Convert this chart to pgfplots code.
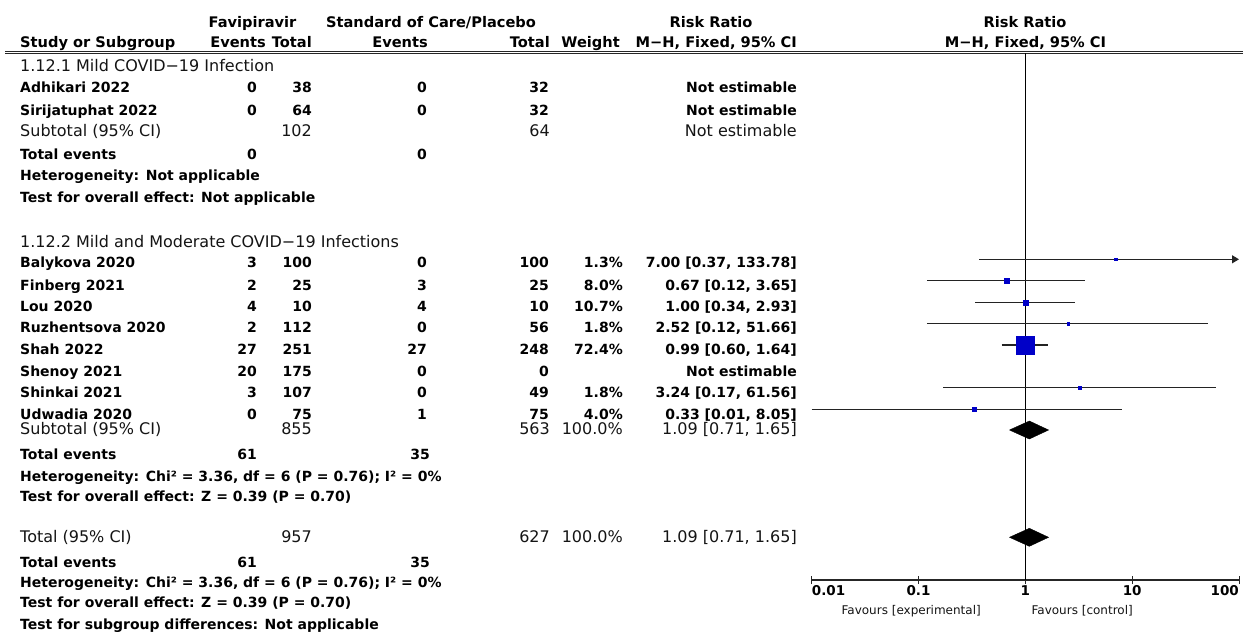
\documentclass[border=0pt]{standalone}
\usepackage{pgfplots}
\pgfplotsset{compat=1.18}
\usepackage{fontspec}
\setmainfont{DejaVu Sans}
\usetikzlibrary{arrows.meta}
\definecolor{sqblue}{RGB}{0,0,200}
\definecolor{cigray}{RGB}{35,35,35}
\tikzset{
 B/.style={font=\fontsize{14}{16}\selectfont\bfseries, inner sep=0pt},
 N/.style={font=\fontsize{16}{18}\selectfont, inner sep=0pt, text=black!92},
 H/.style={font=\fontsize{14.6}{17}\selectfont\bfseries, inner sep=0pt},
 F/.style={font=\fontsize{12}{14}\selectfont, inner sep=0pt, text=black!92},
 T/.style={font=\fontsize{13.5}{15}\selectfont\bfseries, inner sep=0pt},
}
\newcommand\drow[8]{%
 \node[B,anchor=base west] at (20,#1) {#2};
 \node[B,anchor=base east] at (257,#1) {#3};
 \node[B,anchor=base east] at (312,#1) {#4};
 \node[B,anchor=base east] at (427,#1) {#5};
 \node[B,anchor=base east] at (549,#1) {#6};
 \node[B,anchor=base east] at (623,#1) {#7};
 \node[B,anchor=base east] at (797,#1) {#8};}
\newcommand\srow[6]{%
 \node[N,anchor=base west] at (20,#1) {#2};
 \node[N,anchor=base east] at (312,#1) {#3};
 \node[N,anchor=base east] at (550,#1) {#4};
 \node[N,anchor=base east] at (623,#1) {#5};
 \node[N,anchor=base east] at (797,#1) {#6};}
\begin{document}
\begin{tikzpicture}
\useasboundingbox (0pt,0pt) rectangle (1243pt,-632pt);
\begin{scope}[x=1pt,y=-1pt]
% header
\node[H,anchor=base] at (252.5,27) {Favipiravir};
\node[H,anchor=base] at (431,27) {Standard of Care/Placebo};
\node[H,anchor=base] at (711,27) {Risk Ratio};
\node[H,anchor=base] at (1025,27) {Risk Ratio};
\node[H,anchor=base west] at (20,47) {Study or Subgroup};
\node[H,anchor=base east] at (266,47) {Events};
\node[H,anchor=base east] at (312,47) {Total};
\node[H,anchor=base east] at (428,47) {Events};
\node[H,anchor=base east] at (550,47) {Total};
\node[H,anchor=base east] at (620,47) {Weight};
\node[H,anchor=base east] at (797,47) {M−H, Fixed, 95\% CI};
\node[H,anchor=base] at (1025.5,47) {M−H, Fixed, 95\% CI};
\draw[line width=0.9pt, black!85] (5,51) -- (1243,51);
\draw[line width=0.9pt, black!85] (5,53.8) -- (1243,53.8);
% subgroup 1
\node[N,anchor=base west] at (20,71.5) {1.12.1 Mild COVID−19 Infection};
\drow{92.5}{Adhikari 2022}{0}{38}{0}{32}{}{Not estimable}
\drow{115}{Sirijatuphat 2022}{0}{64}{0}{32}{}{Not estimable}
\srow{136}{Subtotal (95\% CI)}{102}{64}{}{Not estimable}
\node[B,anchor=base west] at (20,159) {Total events};
\node[B,anchor=base east] at (257,159) {0};
\node[B,anchor=base east] at (427,159) {0};
\node[B,anchor=base west] at (20,180.5) {Heterogeneity: Not applicable};
\node[B,anchor=base west] at (20,202) {Test for overall effect: Not applicable};
% subgroup 2
\node[N,anchor=base west] at (20,247) {1.12.2 Mild and Moderate COVID−19 Infections};
\drow{267.5}{Balykova 2020}{3}{100}{0}{100}{1.3\%}{7.00 [0.37, 133.78]}
\drow{290}{Finberg 2021}{2}{25}{3}{25}{8.0\%}{0.67 [0.12, 3.65]}
\drow{311}{Lou 2020}{4}{10}{4}{10}{10.7\%}{1.00 [0.34, 2.93]}
\drow{332.5}{Ruzhentsova 2020}{2}{112}{0}{56}{1.8\%}{2.52 [0.12, 51.66]}
\drow{354}{Shah 2022}{27}{251}{27}{248}{72.4\%}{0.99 [0.60, 1.64]}
\drow{376}{Shenoy 2021}{20}{175}{0}{0}{}{Not estimable}
\drow{397.5}{Shinkai 2021}{3}{107}{0}{49}{1.8\%}{3.24 [0.17, 61.56]}
\drow{419}{Udwadia 2020}{0}{75}{1}{75}{4.0\%}{0.33 [0.01, 8.05]}
\srow{434}{Subtotal (95\% CI)}{855}{563}{100.0\%}{1.09 [0.71, 1.65]}
\node[B,anchor=base west] at (20,459) {Total events};
\node[B,anchor=base east] at (257,459) {61};
\node[B,anchor=base east] at (430,459) {35};
\node[B,anchor=base west] at (20,481) {Heterogeneity: Chi² = 3.36, df = 6 (P = 0.76); I² = 0\%};
\node[B,anchor=base west] at (20,501) {Test for overall effect: Z = 0.39 (P = 0.70)};
% total
\srow{542.5}{Total (95\% CI)}{957}{627}{100.0\%}{1.09 [0.71, 1.65]}
\node[B,anchor=base west] at (20,567.5) {Total events};
\node[B,anchor=base east] at (257,567.5) {61};
\node[B,anchor=base east] at (430,567.5) {35};
\node[B,anchor=base west] at (20,587.5) {Heterogeneity: Chi² = 3.36, df = 6 (P = 0.76); I² = 0\%};
\node[B,anchor=base west] at (20,607.5) {Test for overall effect: Z = 0.39 (P = 0.70)};
\node[B,anchor=base west] at (20,629) {Test for subgroup differences: Not applicable};
\end{scope}
% forest plot
\begin{axis}[
 at={(811.7pt,-580pt)}, anchor=south west,
 scale only axis, width=427.3pt, height=580pt,
 xmode=log, xmin=0.01, xmax=100, ymin=-580, ymax=0,
 axis y line=none, axis x line=bottom,
 x axis line style={-, line width=1.1pt, black!85},
 xtick={0.01,0.1,1,10,100}, xticklabels={},
 xminorticks=false,
 tick align=center, major tick length=8pt,
 tick style={black!85, line width=1pt},
 clip=false,
]
\addplot[black, line width=1.2pt] coordinates {(1,-53) (1,-580)};
% confidence intervals
\addplot[cigray, line width=1.3pt, -{Triangle[length=7pt,width=8pt]}] coordinates {(0.37,-259.3) (100,-259.3)};
\addplot[cigray, line width=1.3pt] coordinates {(0.12,-280.7) (3.65,-280.7)};
\addplot[cigray, line width=1.3pt] coordinates {(0.34,-302.3) (2.93,-302.3)};
\addplot[cigray, line width=1.3pt] coordinates {(0.12,-323.7) (51.66,-323.7)};
\addplot[cigray, line width=1.3pt] coordinates {(0.60,-345) (1.64,-345)};
\addplot[cigray, line width=1.3pt] coordinates {(0.17,-387.7) (61.56,-387.7)};
\addplot[cigray, line width=1.3pt] coordinates {(0.01,-409.3) (8.05,-409.3)};
% point estimates
\addplot[only marks, mark=square*, mark size=1.3pt, sqblue] coordinates {(7.00,-259.3)};
\addplot[only marks, mark=square*, mark size=2.2pt, sqblue] coordinates {(0.67,-280.7)};
\addplot[only marks, mark=square*, mark size=2.6pt, sqblue] coordinates {(1.00,-302.3)};
\addplot[only marks, mark=square*, mark size=1.3pt, sqblue] coordinates {(2.52,-323.7)};
\addplot[only marks, mark=square*, mark size=9pt, sqblue] coordinates {(0.99,-345.5)};
\addplot[only marks, mark=square*, mark size=1.5pt, sqblue] coordinates {(3.24,-387.7)};
\addplot[only marks, mark=square*, mark size=2pt, sqblue] coordinates {(0.33,-409.3)};
% diamonds
\addplot[fill=black, draw=black] coordinates {(0.71,-430) (1.09,-421) (1.65,-430) (1.09,-439) (0.71,-430)};
\addplot[fill=black, draw=black] coordinates {(0.71,-537.3) (1.09,-528.3) (1.65,-537.3) (1.09,-546.3) (0.71,-537.3)};
% tick labels and favours
\node[T,anchor=base west] at (axis cs:0.01,-595) {0.01};
\node[T,anchor=base] at (axis cs:0.1,-595) {0.1};
\node[T,anchor=base] at (axis cs:1,-595) {1};
\node[T,anchor=base] at (axis cs:10,-595) {10};
\node[T,anchor=base east] at (axis cs:100,-595) {100};
\node[F,anchor=base east] at (axis cs:0.3845,-614) {Favours [experimental]};
\node[F,anchor=base west] at (axis cs:1.14,-614) {Favours [control]};
\end{axis}
\end{tikzpicture}
\end{document}
